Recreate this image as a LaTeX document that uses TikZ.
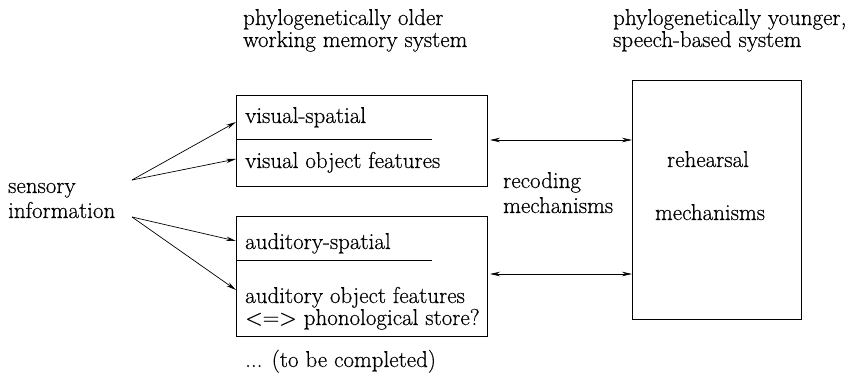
\documentclass[tikz,border=0pt]{standalone}
\usepackage{fontspec}
\newfontfamily\reffont{Latin Modern Roman}[FakeBold=0.45]
\usetikzlibrary{arrows.meta}
\begin{document}
\begin{tikzpicture}[x=1pt,y=-1pt,
  txt/.style={inner sep=0pt,anchor=base west,font=\reffont\fontsize{23}{27}\selectfont},
  ctxt/.style={inner sep=0pt,anchor=base,font=\reffont\fontsize{23}{27}\selectfont},
  boxs/.style={draw,line width=0.8pt,inner sep=0pt,anchor=north west},
  arr/.style={line width=0.7pt,-{Stealth[length=10pt,width=4.5pt]}},
  darr/.style={line width=0.7pt,{Stealth[length=10pt,width=4.5pt]}-{Stealth[length=10pt,width=4.5pt]}}]
\useasboundingbox (0,0) rectangle (847,377);
% titles
\node[txt] (t1a) at (243,25) {phylogenetically older};
\node[txt] (t1b) at (243,47) {working memory system};
\node[txt] (t2a) at (613,25) {phylogenetically younger,};
\node[txt] (t2b) at (613,47) {speech-based system};
% sensory
\node[txt] (s1) at (8,193) {sensory};
\node[txt] (s2) at (8,218) {information};
\coordinate (sa) at (132,180);
\coordinate (sb) at (132,217);
% box 1
\node[boxs,minimum width=251pt,minimum height=91pt] (b1) at (236,95) {};
\node[txt] (vs) at (245,123) {visual-spatial};
\node[txt] (vo) at (245,168) {visual object features};
\coordinate (d1a) at (236,139);
\coordinate (d1b) at (432,139);
\draw[line width=0.8pt] (d1a) -- (d1b);
% box 2
\node[boxs,minimum width=251pt,minimum height=120pt] (b2) at (236,216) {};
\node[txt] (as) at (245,249) {auditory-spatial};
\node[txt] (ao) at (245,303) {auditory object features};
\node[txt] (ph) at (245,325) {<=> phonological store?};
\coordinate (d2a) at (236,260);
\coordinate (d2b) at (432,260);
\draw[line width=0.8pt] (d2a) -- (d2b);
\node[txt] (tbc) at (245,367) {... (to be completed)};
% right box
\node[boxs,minimum width=169pt,minimum height=239pt] (rb) at (632,80) {};
\node[ctxt] (reh) at (708,167) {rehearsal};
\node[ctxt] (mech) at (710,220) {mechanisms};
\node[txt] (rec1) at (503,188) {recoding};
\node[txt] (rec2) at (503,213) {mechanisms};
% arrow endpoints
\coordinate (e1) at (236,122);
\coordinate (e2) at (236,159);
\coordinate (e3) at (236,241);
\coordinate (e4) at (236,290);
\draw[arr] (sa) -- (e1);
\draw[arr] (sa) -- (e2);
\draw[arr] (sb) -- (e3);
\draw[arr] (sb) -- (e4);
\coordinate (r1) at (490,140);
\coordinate (r2) at (490,274);
\draw[darr] (r1) -- (r1 -| rb.west);
\draw[darr] (r2) -- (r2 -| rb.west);
\end{tikzpicture}
\end{document}
